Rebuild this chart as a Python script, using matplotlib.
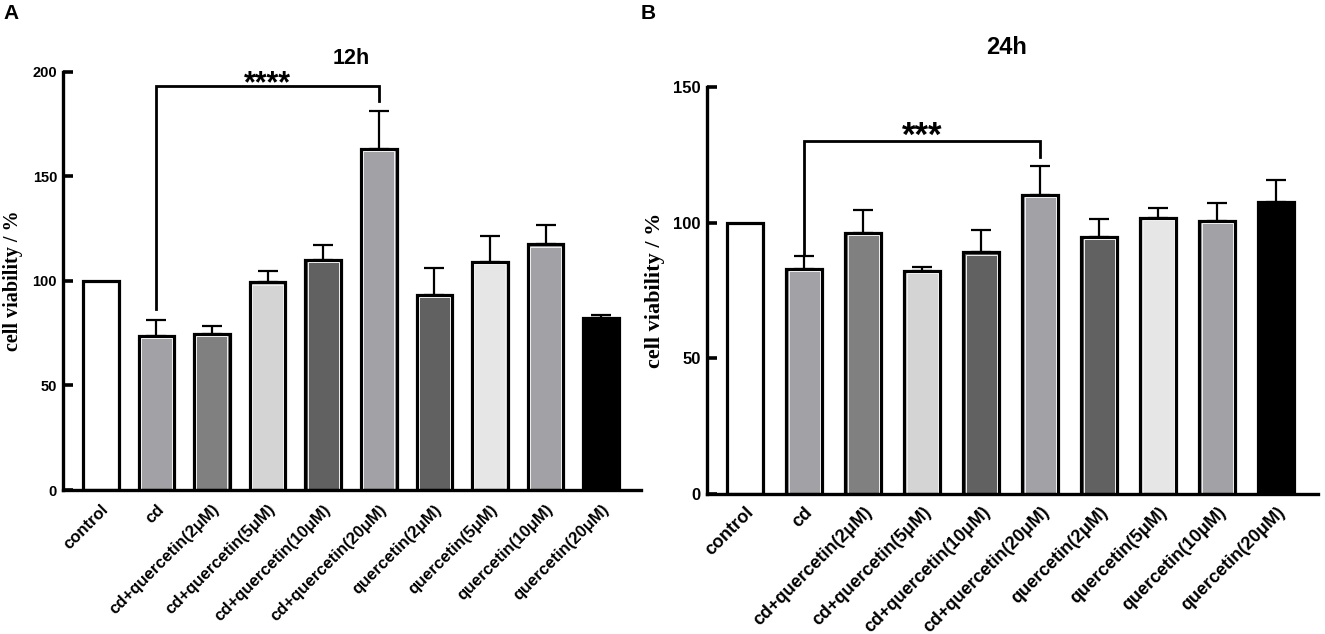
import matplotlib
matplotlib.use('Agg')
import matplotlib.pyplot as plt
import matplotlib.transforms as mtransforms
import numpy as np

groups = ['control', 'cd', 'cd+quercetin(2μM)', 'cd+quercetin(5μM)',
          'cd+quercetin(10μM)', 'cd+quercetin(20μM)', 'quercetin(2μM)',
          'quercetin(5μM)', 'quercetin(10μM)', 'quercetin(20μM)']
bar_colors = ['#ffffff', '#a1a1a6', '#808080', '#d4d4d4', '#616161',
              '#a1a1a6', '#616161', '#e6e6e6', '#a1a1a6', '#000000']

viab_12h = [100, 73.8, 74.6, 99.3, 110.0, 163.0, 93.4, 109.2, 117.5, 82.3]
err_12h = [0, 7.3, 3.6, 5.3, 7.2, 18.2, 12.8, 12.4, 9.4, 1.3]
viab_24h = [100, 83.0, 96.2, 82.1, 89.0, 110.3, 94.7, 101.9, 100.7, 107.8]
err_24h = [0, 4.8, 8.5, 1.7, 8.2, 10.7, 6.5, 3.7, 6.7, 8.0]

# significance brackets: (left group, right group, left end, top, right end, star centre, label)
sig_12h = (1, 5, 86.4, 193.3, 186.0, 198.8, '****')
sig_24h = (1, 5, 88.2, 130.0, 124.4, 136.1, '***')

W, H = 1325, 634
fig = plt.figure(figsize=(W / 100, H / 100), dpi=100)

SANS = 'Liberation Sans'


def panel(rect, vals, errs, ymax, yticks, xlim, bw, sig, fs):
    ax = fig.add_axes(rect)
    x = np.arange(len(groups))
    ax.bar(x, vals, width=bw, color=bar_colors, edgecolor='black',
           linewidth=2.3, zorder=2)
    # thin light line just inside the black outline
    bb = ax.get_position()
    px_x = (xlim[1] - xlim[0]) / (bb.width * W)
    px_y = ymax / (bb.height * H)
    for xi, v, c in zip(x, vals, bar_colors):
        if c in ('#000000', '#ffffff'):
            continue
        ax.add_patch(plt.Rectangle((xi - bw / 2 + 2.3 * px_x, 0),
                                   bw - 4.6 * px_x, v - 2.3 * px_y,
                                   fill=False, edgecolor='#f0f0f0',
                                   linewidth=0.7, zorder=2.1))
    ax.errorbar(x[1:], vals[1:], yerr=[np.zeros(len(x) - 1), errs[1:]],
                fmt='none', ecolor='black', elinewidth=1.6, capsize=7.5,
                capthick=1.6, zorder=1.5)
    l, r, yl, yt, yr, ys, txt = sig
    ax.plot([l, l, r, r], [yl, yt, yt, yr], color='black', lw=2.0,
            solid_joinstyle='miter', clip_on=False, zorder=3)
    star_fs = fs['stars']
    tr = mtransforms.offset_copy(ax.transData, fig=fig, x=0,
                                 y=-0.6 * star_fs, units='points')
    ax.text((l + r) / 2, ys, txt, ha='center', va='baseline',
            fontsize=star_fs, fontweight='bold', family=SANS, transform=tr)
    ax.set_xlim(*xlim)
    ax.set_ylim(0, ymax)
    ax.set_yticks(yticks)
    ax.set_xticks(x)
    ax.set_xticklabels(groups, rotation=45, ha='right', va='top',
                       rotation_mode='anchor', fontsize=fs['xt'],
                       fontweight='bold', family=SANS)
    for t in ax.get_yticklabels():
        t.set_fontsize(fs['yt'])
        t.set_fontweight('bold')
        t.set_family(SANS)
    ax.tick_params(axis='x', direction='in', length=7, width=2.2,
                   pad=fs['xpad'])
    ax.tick_params(axis='y', direction='in', length=7.5, width=2.6, pad=4.5)
    for s in ['top', 'right']:
        ax.spines[s].set_visible(False)
    for s in ['left', 'bottom']:
        ax.spines[s].set_linewidth(2.4)
    ax.set_ylabel('cell viability / %', fontsize=fs['yl'], fontweight='bold',
                  family='Liberation Serif')
    return ax


axA = panel([63.3 / W, 1 - 490 / H, 577.7 / W, 418.3 / H], viab_12h, err_12h,
            200, [0, 50, 100, 150, 200], (-0.674, 9.716), 0.64, sig_12h,
            {'stars': 22, 'xt': 12, 'yt': 10.5, 'yl': 14.5, 'xpad': 8.5})
axA.yaxis.set_label_coords(-0.070, 0.5)

axB = panel([706.7 / W, 1 - 493.5 / H, 611 / W, 406.2 / H], viab_24h, err_24h,
            150, [0, 50, 100, 150], (-0.654, 9.70), 0.61, sig_24h,
            {'stars': 25, 'xt': 13, 'yt': 12, 'yl': 16, 'xpad': 7.2})
axB.yaxis.set_label_coords(-0.068, 0.5)

fig.text(351 / W, 1 - 59 / H, '12h', ha='center', va='center', fontsize=15.5,
         fontweight='bold', family=SANS)
fig.text(1007 / W, 1 - 48 / H, '24h', ha='center', va='center', fontsize=17,
         fontweight='bold', family=SANS)
fig.text(3 / W, 1 - 4 / H, 'A', ha='left', va='top', fontsize=15,
         fontweight='bold', family=SANS)
fig.text(641 / W, 1 - 4 / H, 'B', ha='left', va='top', fontsize=15,
         fontweight='bold', family=SANS)

fig.savefig('out.png', dpi=100)
